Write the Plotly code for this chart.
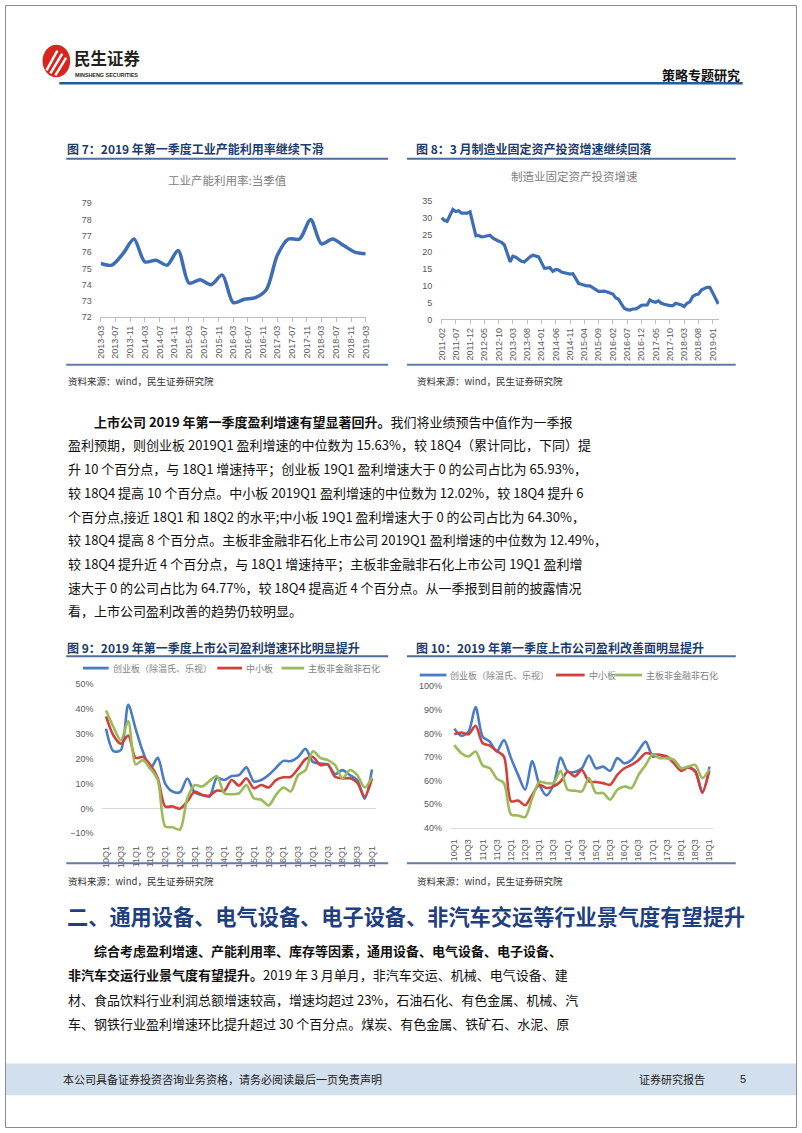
import plotly.graph_objects as go

W, H = 802, 1133
def fx(x): return x / W
def fy(y): return 1 - y / H

CJK = "Noto Sans CJK SC"
LAT = "Liberation Sans"

# ---------------- data ----------------
# Fig 7: industrial capacity utilisation (quarterly, %)
c7_inner_title = "工业产能利用率:当季值"
c7_dates = [f"{y}-{m:02d}-01" for y in range(2013, 2020) for m in (3, 6, 9, 12)][:25]
c7_values = [75.3, 75.2, 75.9, 76.8, 75.4, 75.5, 75.2, 76.1,
             74.1, 74.3, 74.0, 74.6, 72.9, 73.1, 73.2, 73.7,
             75.8, 76.8, 76.8, 78.0, 76.5, 76.8, 76.4, 76.0, 75.9]

# Fig 8: manufacturing FAI growth (cumulative yoy, %, Feb-Dec each year)
c8_inner_title = "制造业固定资产投资增速"
c8_dates = [f"{y}-{m:02d}-01" for y in range(2011, 2020) for m in range(2, 13)][:90]
c8_values = [30.0, 29.3, 29.0, 30.8, 32.5, 31.9, 32.1, 31.4, 31.5, 31.4, 31.8,   # 2011
             24.7, 24.8, 24.4, 24.5, 24.6, 24.9, 24.0, 23.4, 23.1, 22.8, 22.0,   # 2012
             17.0, 18.7, 18.4, 17.8, 17.2, 17.0, 17.9, 18.5, 19.0, 18.8, 18.5,   # 2013
             15.1, 15.2, 15.3, 14.2, 14.8, 14.6, 14.0, 13.8, 13.6, 13.4, 13.5,   # 2014
             10.6, 10.4, 10.1, 9.9, 9.9, 9.4, 8.9, 8.3, 8.3, 8.4, 8.1,           # 2015
             7.5, 6.4, 6.0, 4.6, 3.3, 2.9, 2.8, 3.1, 3.1, 3.6, 4.2,              # 2016
             4.3, 5.8, 5.3, 5.1, 5.5, 4.8, 4.5, 4.2, 4.1, 4.1, 4.8,              # 2017
             4.3, 3.8, 4.8, 5.2, 6.8, 7.3, 7.5, 8.7, 9.1, 9.5, 9.5,              # 2018
             5.9, 4.6]                                                           # 2019

# Fig 9 / 10: quarters and series
quarters = [f"{y:02d}Q{q}" for y in range(10, 20) for q in (1, 2, 3, 4)][:37]
quarter_ticks = quarters[::2]
series_names = ["创业板（除温氏、乐视）", "中小板", "主板非金融非石化"]

c9_gem = [32, 23, 23.4, 41.6, 32, 22.7, 16, 20.3, 10, 6.8, 6.5, 12, 6.4, 5.4, 4.8, 12.3,
          11.4, 13, 13.4, 16.5, 10.8, 11.4, 13.4, 16.3, 19.1, 19, 20.7, 24, 18.7, 18, 17.7,
          13.8, 15.4, 13.4, 11.4, 3.9, 15.6]
c9_sme = [37, 29.3, 26, 29.3, 20.3, 20.7, 17.4, 12.1, 0.8, 0.8, -0.1, 2.8, 6.8, 5.4, 5.2, 7.2,
          7, 11.4, 9.2, 12.1, 8.1, 9.4, 8.4, 11.4, 12.5, 12.7, 16, 19.8, 20.7, 17.4, 17.7,
          12.7, 12.1, 12.1, 10.4, 4.8, 12.0]
c9_main = [39.3, 32.7, 27.4, 35, 17.7, 19.4, 16, 11.4, -7.2, -7.6, -8.5, 4.1, 9.4, 8.8, 11, 13,
           6.1, 5.7, 6.1, 9.4, 4.1, 3.5, 1.2, 5.4, 8.4, 6.8, 13.4, 15.4, 23, 20.3, 19.4,
           17.4, 12.1, 15.4, 13.4, 8.4, 12.5]

c10_gem = [82, 79, 80.7, 91.2, 78.6, 76.5, 72.3, 77.2, 69.5, 62.4, 56.1, 68.3, 58.2, 53.7, 58.2,
           69.7, 63.8, 63.6, 65.2, 70.6, 65.2, 65.9, 64.1, 69.5, 67.3, 68.7, 72.7, 76.5, 70.2,
           70.9, 69.5, 68.7, 65.2, 65.5, 64.1, 54.7, 65.9]
c10_sme = [79.6, 80.4, 79.6, 83.2, 75.8, 74.8, 72.5, 70.2, 51.2, 51.5, 49.5, 54, 58.2, 56.8, 57.5,
           59.6, 63.8, 61.7, 64.5, 59.6, 59.4, 58.9, 58.2, 62.4, 65.2, 66.6, 68.7, 71.6, 71.1,
           70.9, 70.2, 67.3, 64.1, 65.5, 63.8, 55.1, 64.3]
c10_main = [75, 71.6, 70.2, 72.3, 66.4, 65.2, 60.8, 58.9, 45.6, 45.2, 44.5, 52.6, 59.4, 58.9, 58.9,
            64.1, 56.1, 55.7, 55.4, 61, 54.7, 54.7, 51.9, 56.1, 57.5, 56.8, 62.4, 66.6, 71.1,
            69.5, 69.5, 68.7, 65.2, 65.9, 66.6, 61, 64.8]

# ---------------- texts ----------------
fig_titles = ["图 7：2019 年第一季度工业产能利用率继续下滑",
              "图 8：3 月制造业固定资产投资增速继续回落",
              "图 9：2019 年第一季度上市公司盈利增速环比明显提升",
              "图 10：2019 年第一季度上市公司盈利改善面明显提升"]
source_text = "资料来源：wind，民生证券研究院"

para1 = [
    "<b>上市公司 2019 年第一季度盈利增速有望显著回升。</b>我们将业绩预告中值作为一季报",
    "盈利预期，则创业板 2019Q1 盈利增速的中位数为 15.63%，较 18Q4（累计同比，下同）提",
    "升 10 个百分点，与 18Q1 增速持平；创业板 19Q1 盈利增速大于 0 的公司占比为 65.93%，",
    "较 18Q4 提高 10 个百分点。中小板 2019Q1 盈利增速的中位数为 12.02%，较 18Q4 提升 6",
    "个百分点,接近 18Q1 和 18Q2 的水平;中小板 19Q1 盈利增速大于 0 的公司占比为 64.30%，",
    "较 18Q4 提高 8 个百分点。主板非金融非石化上市公司 2019Q1 盈利增速的中位数为 12.49%，",
    "较 18Q4 提升近 4 个百分点，与 18Q1 增速持平；主板非金融非石化上市公司 19Q1 盈利增",
    "速大于 0 的公司占比为 64.77%，较 18Q4 提高近 4 个百分点。从一季报到目前的披露情况",
    "看，上市公司盈利改善的趋势仍较明显。",
]
section_heading = "二、通用设备、电气设备、电子设备、非汽车交运等行业景气度有望提升"
para2 = [
    "<b>综合考虑盈利增速、产能利用率、库存等因素，通用设备、电气设备、电子设备、</b>",
    "<b>非汽车交运行业景气度有望提升。</b>2019 年 3 月单月，非汽车交运、机械、电气设备、建",
    "材、食品饮料行业利润总额增速较高，增速均超过 23%，石油石化、有色金属、机械、汽",
    "车、钢铁行业盈利增速环比提升超过 30 个百分点。煤炭、有色金属、铁矿石、水泥、原",
]

# ---------------- styles ----------------
BLUE1 = "#3F6DB5"
C_BLUE = "#4A7CC3"
C_RED = "#D2403B"
C_GREEN = "#9BBB59"
SERIES_COLORS = [C_BLUE, C_RED, C_GREEN]
TICK_FONT = dict(family=LAT, size=9, color="#595959")
TITLE_COLOR = "#1C3C6E"
RULE_COLOR = "#4F6E9A"

fig = go.Figure()

fig.add_trace(go.Scatter(x=c7_dates, y=c7_values, mode="lines", xaxis="x", yaxis="y",
                         line=dict(color=BLUE1, width=3.5, shape="spline", smoothing=0.8),
                         showlegend=False, hoverinfo="skip"))
fig.add_trace(go.Scatter(x=c8_dates, y=c8_values, mode="lines", xaxis="x2", yaxis="y2",
                         line=dict(color=BLUE1, width=3.2), showlegend=False, hoverinfo="skip"))

for vals, col, name in zip([c9_gem, c9_sme, c9_main], SERIES_COLORS, series_names):
    fig.add_trace(go.Scatter(x=quarters, y=vals, name=name, mode="lines", xaxis="x3", yaxis="y3",
                             line=dict(color=col, width=2.6, shape="spline", smoothing=0.8),
                             showlegend=False, hoverinfo="skip"))
for vals, col, name in zip([c10_gem, c10_sme, c10_main], SERIES_COLORS, series_names):
    fig.add_trace(go.Scatter(x=quarters, y=vals, name=name, mode="lines", xaxis="x4", yaxis="y4",
                             line=dict(color=col, width=2.6, shape="spline", smoothing=0.8),
                             showlegend=False, hoverinfo="skip"))

def yax(dom, rng, dtick, anchor, suffix=""):
    return dict(domain=[fy(dom[1]), fy(dom[0])], range=rng, dtick=dtick, anchor=anchor,
                showgrid=False, showline=False, zeroline=False, ticks="outside",
                ticklen=6, tickcolor="rgba(0,0,0,0)", tickfont=TICK_FONT, ticksuffix=suffix,
                fixedrange=True)

layout_axes = dict(
    xaxis=dict(domain=[fx(96.7), fx(365.5)], anchor="y", type="date",
               range=["2013-02-27", "2019-03-04"], tick0="2013-03-01", dtick="M4",
               tickformat="%Y-%m", tickangle=-90, showline=True, linecolor="#BFBFBF",
               ticks="outside", ticklen=4, tickcolor="#BFBFBF", showgrid=False,
               zeroline=False, tickfont=TICK_FONT),
    yaxis=yax((200, 315), [72, 79], 1, "x"),
    xaxis2=dict(domain=[fx(441.5), fx(723)], anchor="y2", type="date",
                range=["2011-01-25", "2019-03-08"], tick0="2011-02-01", dtick="M5",
                tickformat="%Y-%m", tickangle=-90, showline=True, linecolor="#BFBFBF",
                ticks="outside", ticklen=4, tickcolor="#BFBFBF", showgrid=False,
                zeroline=False, tickfont=TICK_FONT),
    yaxis2=yax((197.7, 317.3), [0, 35], 5, "x2"),
    xaxis3=dict(domain=[fx(98.6), fx(375.4)], anchor="y3", type="category",
                range=[-0.5, 36.5], tickmode="array", tickvals=quarter_ticks,
                ticktext=quarter_ticks, tickangle=-90, showline=False, showgrid=False,
                ticks="outside", ticklen=8, tickcolor="rgba(0,0,0,0)", tickfont=TICK_FONT),
    yaxis3=dict(yax((685, 835.7), [-10, 50], 10, "x3", "%"), zeroline=True,
                zerolinecolor="#D9D9D9", zerolinewidth=1),
    xaxis4=dict(domain=[fx(451.4), fx(716.9)], anchor="y4", type="category",
                range=[-0.5, 36.5], tickmode="array", tickvals=quarter_ticks,
                ticktext=quarter_ticks, tickangle=-90, showline=True, linecolor="#D9D9D9",
                showgrid=False, ticks="outside", ticklen=7, tickcolor="rgba(0,0,0,0)",
                tickfont=TICK_FONT),
    yaxis4=yax((687.3, 830), [40, 100], 10, "x4", "%"),
)

def ann(text, x, y, size, color="#111111", family=CJK, xanchor="left", yanchor="middle"):
    return dict(text=text, x=fx(x), y=fy(y), xref="paper", yref="paper", showarrow=False,
                xanchor=xanchor, yanchor=yanchor, font=dict(family=family, size=size, color=color))

def hline(x0, x1, y, color, width):
    return dict(type="line", xref="paper", yref="paper", x0=fx(x0), x1=fx(x1),
                y0=fy(y), y1=fy(y), line=dict(color=color, width=width))

anns = []
shapes = []

# header
anns.append(ann("<b>民生证券</b>", 67.5, 53.5, 16.5, "#231F20"))
anns.append(ann("<b>MINSHENG SECURITIES</b>", 68.5, 70.5, 5.4, "#231F20", LAT))
anns.append(ann("<b>策略专题研究</b>", 746, 70, 13, "#111111", xanchor="right"))
# figure titles
anns.append(ann("<b>" + fig_titles[0] + "</b>", 61, 145, 12, TITLE_COLOR))
anns.append(ann("<b>" + fig_titles[1] + "</b>", 414, 145, 12, TITLE_COLOR))
anns.append(ann("<b>" + fig_titles[2] + "</b>", 61, 648, 12, TITLE_COLOR))
anns.append(ann("<b>" + fig_titles[3] + "</b>", 414, 648, 12, TITLE_COLOR))
# inner chart titles
anns.append(ann(c7_inner_title, 225, 177, 11.5, "#808080", xanchor="center"))
anns.append(ann(c8_inner_title, 577, 173, 11.5, "#808080", xanchor="center"))
# legends for fig 9 and fig 10 (line swatch + label)
legend_specs = [
    (669, [(79, 105), (215, 240), (280, 303)]),
    (676, [(420, 447), (558, 587), (618, 645)]),
]
for ly, segs in legend_specs:
    for (s0, s1), col, name in zip(segs, SERIES_COLORS, series_names):
        shapes.append(hline(s0, s1, ly, col, 2.8))
        anns.append(ann(name, s1 + 2, ly, 9, "#7F7F7F"))
# sources
for sx, sy in [(62, 379), (415, 379), (62, 884), (415, 884)]:
    anns.append(ann(source_text, sx, sy, 9.5, "#333333"))
# paragraph 1
for i, line in enumerate(para1):
    anns.append(ann(line, 88 if i == 0 else 62, 420 + 23.9 * i, 13, "#111111"))
# heading
anns.append(ann("<b>" + section_heading + "</b>", 61, 919, 21.2, "#1F3F7F"))
# paragraph 2
for i, line in enumerate(para2):
    anns.append(ann(line, 88 if i == 0 else 62, 954 + 24.5 * i, 13, "#111111"))
# footer
anns.append(ann("本公司具备证券投资咨询业务资格，请务必阅读最后一页免责声明", 57, 1084, 11, "#222222"))
anns.append(ann("证券研究报告", 640, 1084, 11, "#222222"))
anns.append(ann("5", 742, 1084, 11, "#222222", LAT))

# page border
shapes.append(dict(type="rect", xref="paper", yref="paper", x0=fx(0.5), x1=fx(801.5),
                   y0=fy(1132.5), y1=fy(0.5), line=dict(color="#8C8C8C", width=1)))
# footer band
shapes.append(dict(type="rect", xref="paper", yref="paper", x0=fx(1), x1=fx(801),
                   y0=fy(1100), y1=fy(1068), fillcolor="#D2DFEC", line=dict(width=0), layer="below"))
# header rule
shapes.append(hline(55, 747, 79, "#2B5A98", 2.5))
# logo
shapes.append(dict(type="circle", xref="paper", yref="paper", x0=fx(38), x1=fx(66),
                   y0=fy(73), y1=fy(40), fillcolor="#D8261E", line=dict(width=0)))
for (a, b, c, d) in [(42, 66, 53, 46), (46, 69, 58, 49), (51, 71, 62, 53)]:
    shapes.append(dict(type="line", xref="paper", yref="paper", x0=fx(a), y0=fy(b),
                       x1=fx(c), y1=fy(d), line=dict(color="white", width=2.4)))
# title rules & bottom rules
shapes.append(hline(62, 388, 155, RULE_COLOR, 2))
shapes.append(hline(407, 740, 155, RULE_COLOR, 2))
shapes.append(hline(62, 388, 657, RULE_COLOR, 2))
shapes.append(hline(407, 740, 657, RULE_COLOR, 2))
shapes.append(hline(62, 388, 363, "#5F7DA8", 2))
shapes.append(hline(407, 740, 363, "#5F7DA8", 2))
shapes.append(hline(62, 388, 866, "#5F7DA8", 2))
shapes.append(hline(407, 740, 866, "#5F7DA8", 2))

fig.update_layout(
    width=W, height=H, margin=dict(l=0, r=0, t=0, b=0),
    paper_bgcolor="white", plot_bgcolor="white",
    annotations=anns, shapes=shapes, showlegend=False,
    **layout_axes,
)

fig.write_html("out.html")
